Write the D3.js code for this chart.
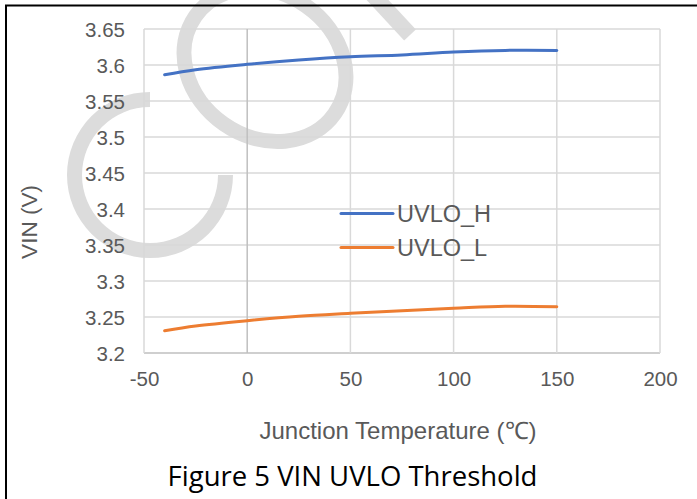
<!DOCTYPE html>
<html>
<head>
<meta charset="utf-8">
<script src="https://cdn.jsdelivr.net/npm/d3@7"></script>
<style>
  html, body { margin: 0; padding: 0; background: #fff; }
  svg { display: block; }
</style>
</head>
<body>
<svg id="chart" width="697" height="499"></svg>
<script>
// ---- data ----
const temps = [-40, -25, 0, 25, 50, 75, 100, 125, 150];
const uvloH = [3.5865, 3.5935, 3.601, 3.607, 3.6115, 3.6140, 3.618, 3.6203, 3.6203];
const uvloL = [3.2310, 3.2375, 3.2449, 3.2510, 3.2551, 3.2588, 3.2621, 3.2650, 3.2643];
const seriesNames = ["UVLO_H", "UVLO_L"];
const xTicks = [-50, 0, 50, 100, 150, 200];
const yTicks = [3.2, 3.25, 3.3, 3.35, 3.4, 3.45, 3.5, 3.55, 3.6, 3.65];
const xTitle = "Junction Temperature (\u2103)";
const yTitle = "VIN (V)";
const caption = "Figure 5 VIN UVLO Threshold";

const svg = d3.select("#chart");
const W = 697, H = 499;
const m = { left: 144, right: 660, top: 29, bottom: 353 };

// ---- watermark (decorative, behind chart) ----
const wm = svg.append("g").attr("fill", "none").attr("stroke", "#dcdcdc");
wm.append("path")
  .attr("transform", "translate(150,175)")
  .attr("d", d3.arc()({ innerRadius: 68, outerRadius: 83, startAngle: Math.PI / 2, endAngle: 2 * Math.PI }))
  .attr("fill", "#dcdcdc").attr("stroke", "none");
wm.append("ellipse")
  .attr("cx", 0).attr("cy", 0).attr("rx", 85).attr("ry", 72)
  .attr("transform", "translate(265,65) rotate(35)")
  .attr("stroke-width", 15);
wm.append("line")
  .attr("x1", 372).attr("y1", -6).attr("x2", 410).attr("y2", 35)
  .attr("stroke-width", 16);

// ---- border ----
svg.append("line").attr("x1", 5).attr("x2", W).attr("y1", 5.5).attr("y2", 5.5)
  .attr("stroke", "#000").attr("stroke-width", 2);
svg.append("line").attr("x1", 6).attr("x2", 6).attr("y1", 5).attr("y2", H)
  .attr("stroke", "#000").attr("stroke-width", 2);

// ---- scales ----
const x = d3.scaleLinear().domain([-50, 200]).range([m.left, m.right]);
const y = d3.scaleLinear().domain([3.2, 3.65]).range([m.bottom, m.top]);

// ---- grid ----
const grid = svg.append("g");
grid.selectAll("line.h").data(yTicks).join("line")
  .attr("x1", m.left).attr("x2", m.right)
  .attr("y1", d => y(d)).attr("y2", d => y(d))
  .attr("stroke", d => d === 3.2 ? "#bfbfbf" : "#d9d9d9").attr("stroke-width", 1.5);
grid.selectAll("line.v").data(xTicks).join("line")
  .attr("x1", d => x(d)).attr("x2", d => x(d))
  .attr("y1", m.top).attr("y2", m.bottom)
  .attr("stroke", d => d === 0 ? "#bfbfbf" : "#d9d9d9").attr("stroke-width", 1.5);

// ---- axes labels ----
const yAxis = d3.axisLeft(y).tickValues(yTicks).tickSize(0).tickPadding(0)
  .tickFormat(d => String(+d.toFixed(2)));
const gy = svg.append("g").attr("transform", `translate(125,0)`).call(yAxis);
gy.select(".domain").remove();
gy.selectAll("text").attr("font-family", "'Liberation Sans', Arial, sans-serif")
  .attr("font-size", 20.5).attr("fill", "#595959").attr("dy", "0.36em").attr("x", 0);

const xAxis = d3.axisBottom(x).tickValues(xTicks).tickSize(0).tickPadding(0)
  .tickFormat(d => String(d));
const gx = svg.append("g").attr("transform", `translate(0,${m.bottom})`).call(xAxis);
gx.select(".domain").remove();
gx.selectAll("text").attr("font-family", "'Liberation Sans', Arial, sans-serif")
  .attr("font-size", 20.5).attr("fill", "#595959").attr("y", 33).attr("dy", 0);

// ---- lines ----
const line = d3.line().x((d, i) => x(temps[i])).y(d => y(d)).curve(d3.curveCatmullRom.alpha(0.5));
const colors = ["#4472C4", "#ED7D31"];
[uvloH, uvloL].forEach((s, k) => {
  svg.append("path").datum(s).attr("d", line)
    .attr("fill", "none").attr("stroke", colors[k]).attr("stroke-width", 3)
    .attr("stroke-linecap", "round");
});

// ---- legend ----
const lg = svg.append("g");
seriesNames.forEach((n, k) => {
  const ly = 213.5 + k * 34;
  lg.append("line").attr("x1", 341).attr("x2", 393).attr("y1", ly).attr("y2", ly)
    .attr("stroke", colors[k]).attr("stroke-width", 3).attr("stroke-linecap", "round");
  lg.append("text").attr("x", 397).attr("y", ly + 8.5).text(n)
    .attr("font-family", "'Liberation Sans', Arial, sans-serif").attr("font-size", 23.5)
    .attr("fill", "#595959");
});

// ---- titles ----
svg.append("text").attr("x", 398).attr("y", 439).attr("text-anchor", "middle")
  .attr("font-family", "'Liberation Sans', Arial, sans-serif").attr("font-size", 24)
  .attr("fill", "#595959").text(xTitle);
svg.append("text").attr("transform", "translate(37,222) rotate(-90)").attr("text-anchor", "middle")
  .attr("font-family", "'Liberation Sans', Arial, sans-serif").attr("font-size", 22.5)
  .attr("fill", "#595959").text(yTitle);
svg.append("text").attr("x", 352.5).attr("y", 486).attr("text-anchor", "middle")
  .attr("font-family", "'Open Sans', 'Noto Sans', sans-serif").attr("font-size", 27.5)
  .attr("fill", "#000").text(caption);
</script>
</body>
</html>
